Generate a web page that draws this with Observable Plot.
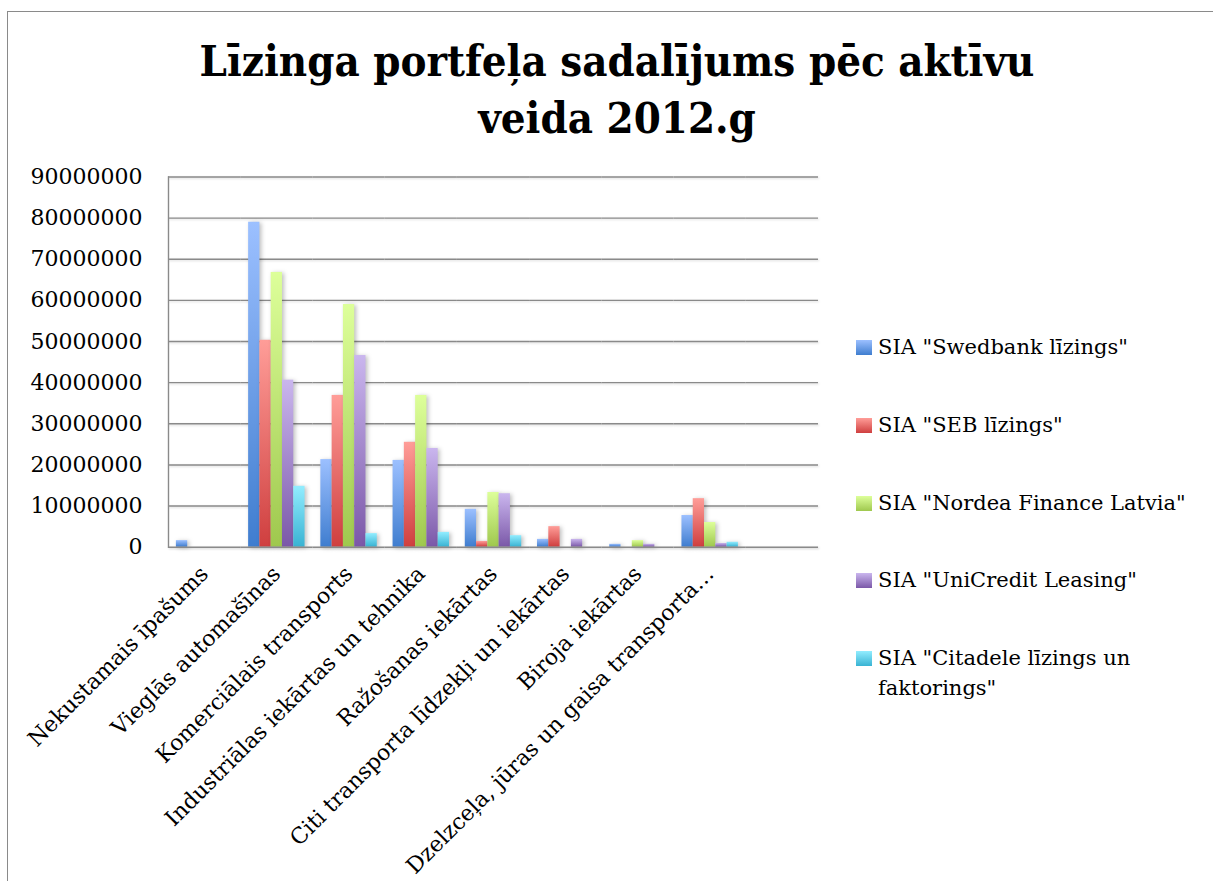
<!DOCTYPE html>
<html>
<head>
<meta charset="utf-8">
<script src="https://cdn.jsdelivr.net/npm/d3@7"></script>
<script src="https://cdn.jsdelivr.net/npm/@observablehq/plot@0.6"></script>
<style>
  html, body { margin: 0; padding: 0; background: #fff; }
  #wrap { position: relative; width: 1213px; height: 881px; overflow: hidden; background: #fff; }
  #border { position: absolute; left: 7px; top: 11px; width: 1300px; height: 900px; border-left: 1px solid #8a8a8a; border-top: 1px solid #8a8a8a; }
  .tline { position: absolute; left: 0; width: 1234px; text-align: center; font-weight: bold; color: #000; white-space: nowrap; }
  #chart { position: absolute; left: 0; top: 160px; }
  .leg { position: absolute; left: 856px; display: flex; align-items: flex-start; font-family: "DejaVu Serif", serif; font-size: 21px; line-height: 30px; color: #000; }
  .sw { width: 16px; height: 15px; margin-top: 8px; margin-right: 6px; flex: none; }
  .lt { width: 330px; }
</style>
</head>
<body>
<div id="wrap">
  <div id="border"></div>
  <div id="t1" class="tline"></div>
  <div id="t2" class="tline"></div>
  <div id="chart"></div>
</div>
<svg width="0" height="0" style="position:absolute">
  <defs id="gdefs"></defs>
</svg>
<script>
// ---- data ----
const titleLines = ["Līzinga portfeļa sadalījums pēc aktīvu", "veida 2012.g"];
const categories = [
  "Nekustamais īpašums",
  "Vieglās automašīnas",
  "Komerciālais transports",
  "Industriālas iekārtas un tehnika",
  "Ražošanas iekārtas",
  "Citi transporta līdzekļi un iekārtas",
  "Biroja iekārtas",
  "Dzelzceļa, jūras un gaisa transporta…",
  ""
];
const seriesNames = [
  'SIA "Swedbank līzings"',
  'SIA "SEB līzings"',
  'SIA "Nordea Finance Latvia"',
  'SIA "UniCredit Leasing"',
  'SIA "Citadele līzings un faktorings"'
];
const swedbank  = [1600000, 79000000, 21300000, 21100000,  9200000, 1900000,  700000,  7700000];
const seb       = [      0, 50300000, 36900000, 25500000,  1400000, 5000000,       0, 11800000];
const nordea    = [      0, 66800000, 59000000, 36900000, 13300000,       0, 1600000,  6000000];
const unicredit = [      0, 40600000, 46600000, 24000000, 13000000, 1900000,  700000,   900000];
const citadele  = [      0, 14800000,  3300000,  3600000,  2800000,       0,       0,  1200000];
const yTicks = [0, 10000000, 20000000, 30000000, 40000000, 50000000, 60000000, 70000000, 80000000, 90000000];

// ---- styles ----
const gradients = [
  ["#9cc0ff", "#3f7dcf"],
  ["#ff9d98", "#cf3f3f"],
  ["#ddff9a", "#9fc84e"],
  ["#cab6ee", "#7b58a8"],
  ["#92edff", "#39b3d3"]
];
const seriesValues = [swedbank, seb, nordea, unicredit, citadele];

// gradient defs
const defs = document.getElementById("gdefs");
gradients.forEach(([top, bot], i) => {
  const ns = "http://www.w3.org/2000/svg";
  const g = document.createElementNS(ns, "linearGradient");
  g.setAttribute("id", "grad" + i);
  g.setAttribute("x1", "0"); g.setAttribute("y1", "0");
  g.setAttribute("x2", "0"); g.setAttribute("y2", "1");
  [[0, top], [1, bot]].forEach(([o, c]) => {
    const s = document.createElementNS(ns, "stop");
    s.setAttribute("offset", o);
    s.setAttribute("stop-color", c);
    g.appendChild(s);
  });
  defs.appendChild(g);
});

// ---- title ----
const titleFont = '"DejaVu Serif Condensed", "Liberation Serif", serif';
const ctx = document.createElement("canvas").getContext("2d");
ctx.font = `bold 100px ${titleFont}`;
const tSize = 100 * 835 / ctx.measureText(titleLines[0]).width;
const t1 = document.getElementById("t1"), t2 = document.getElementById("t2");
[t1, t2].forEach((el, i) => {
  el.textContent = titleLines[i];
  el.style.fontFamily = titleFont;
  el.style.fontSize = tSize + "px";
  el.style.lineHeight = "56px";
  el.style.top = (33 + i * 57) + "px";
});

// ---- chart ----
const rows = [];
seriesValues.forEach((vals, s) => {
  vals.forEach((v, c) => rows.push({cat: categories[c], series: seriesNames[s], value: v, s}));
});
const gridRows = categories.flatMap(c => yTicks.map(t => ({cat: c, t})));

const chart = Plot.plot({
  width: 840,
  height: 721,
  marginLeft: 168,
  marginRight: 22,
  marginTop: 16.5,
  marginBottom: 334.3,
  style: {fontFamily: '"DejaVu Serif", serif', fontSize: "22px", color: "#000", background: "transparent"},
  fx: {domain: categories, padding: 0, round: false, label: null, tickRotate: -45, tickSize: 0, tickPadding: 23},
  x: {domain: seriesNames, paddingInner: 0, paddingOuter: 0.7, round: false, axis: null},
  y: {domain: [0, 90000000], axis: null},
  marks: [
    Plot.ruleY(gridRows.filter(d => d.t > 0), {fx: "cat", y: "t", stroke: "#8a8a8a", strokeWidth: 1.4,
      imageFilter: "drop-shadow(1px 1px 1px rgba(0,0,0,0.15))"}),
    Plot.axisY(yTicks, {tickFormat: d => String(d), tickSize: 0, tickPadding: 26, label: null, fontSize: 22}),
    ...seriesNames.map((name, i) => Plot.barY(rows.filter(r => r.s === i), {
      fx: "cat", x: "series", y: "value", fill: `url(#grad${i})`,
      imageFilter: "drop-shadow(2px 1px 2px rgba(0,0,0,0.25))"
    })),
    Plot.ruleY(gridRows.filter(d => d.t === 0), {fx: "cat", y: "t", stroke: "#8a8a8a", strokeWidth: 1.6,
      imageFilter: "drop-shadow(1px 1px 1px rgba(0,0,0,0.2))"}),
    Plot.frame({anchor: "left", facetAnchor: "left", stroke: "#8a8a8a", strokeWidth: 1.4})
  ]
});
document.getElementById("chart").appendChild(chart);

// ---- legend ----
const wrap = document.getElementById("wrap");
seriesNames.forEach((name, i) => {
  const item = document.createElement("div");
  item.className = "leg";
  item.style.top = (332 + i * 77.8) + "px";
  const sw = document.createElement("div");
  sw.className = "sw";
  sw.style.background = `linear-gradient(${gradients[i][0]}, ${gradients[i][1]})`;
  const lt = document.createElement("div");
  lt.className = "lt";
  lt.textContent = name;
  item.appendChild(sw); item.appendChild(lt);
  wrap.appendChild(item);
});
</script>
</body>
</html>
